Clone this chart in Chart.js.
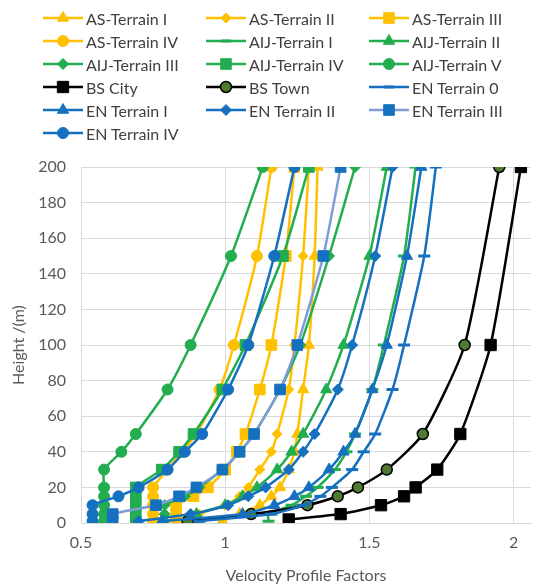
<!DOCTYPE html>
<html>
<head>
<meta charset="utf-8">
<script src="https://cdn.jsdelivr.net/npm/chart.js@4.4.0/dist/chart.umd.min.js"></script>
<style>
  html, body { margin: 0; padding: 0; background: #fff; }
  #wrap { position: relative; width: 541px; height: 587px; }
  #chart { position: absolute; left: 0; top: 0; }
  #legend { position: absolute; left: 0; top: 0; width: 541px; height: 150px;
            font-family: Lato, "Open Sans", sans-serif; font-size: 16px; color: #404040; }
  .item { position: absolute; height: 20px; display: flex; align-items: center; white-space: nowrap; }
  .item canvas { margin-right: 3px; }
</style>
</head>
<body>
<div id="wrap">
  <canvas id="chart" width="541" height="587"></canvas>
  <div id="legend"></div>
</div>
<script>
// heights (m) at which each profile is tabulated
const heights = [1, 5, 10, 15, 20, 30, 40, 50, 75, 100, 150, 200];
const bsCityHeights = [2, 5, 10, 15, 20, 30, 50, 100, 200];
const bsTownHeights = [1, 5, 10, 15, 20, 30, 50, 100, 200];

// velocity profile factors
const asTerrain1 = [0.99, 1.05, 1.12, 1.16, 1.19, 1.22, 1.24, 1.25, 1.27, 1.29, 1.31, 1.32];
const asTerrain2 = [0.91, 0.91, 1.00, 1.05, 1.08, 1.12, 1.16, 1.18, 1.22, 1.24, 1.27, 1.29];
const asTerrain3 = [0.83, 0.83, 0.83, 0.89, 0.94, 1.00, 1.04, 1.07, 1.12, 1.16, 1.21, 1.24];
const asTerrain4 = [0.75, 0.75, 0.75, 0.75, 0.75, 0.80, 0.85, 0.90, 0.98, 1.03, 1.11, 1.16];
const aijTerrain1 = [1.15, 1.15, 1.23, 1.28, 1.32, 1.38, 1.42, 1.45, 1.51, 1.55, 1.62, 1.66];
const aijTerrain2 = [0.90, 0.90, 1.00, 1.06, 1.11, 1.18, 1.23, 1.27, 1.35, 1.41, 1.50, 1.56];
const aijTerrain3 = [0.79, 0.79, 0.79, 0.86, 0.91, 0.99, 1.05, 1.10, 1.19, 1.26, 1.36, 1.45];
const aijTerrain4 = [0.69, 0.69, 0.69, 0.69, 0.69, 0.78, 0.84, 0.89, 0.99, 1.07, 1.20, 1.29];
const aijTerrain5 = [0.58, 0.58, 0.58, 0.58, 0.58, 0.58, 0.64, 0.69, 0.80, 0.88, 1.02, 1.13];
const bsCity = [1.22, 1.40, 1.54, 1.62, 1.66, 1.735, 1.815, 1.92, 2.025];
const bsTown = [0.87, 1.09, 1.285, 1.39, 1.46, 1.56, 1.685, 1.83, 1.95];
const enTerrain0 = [0.91, 1.16, 1.27, 1.33, 1.37, 1.44, 1.48, 1.52, 1.58, 1.62, 1.69, 1.73];
const enTerrain1 = [0.78, 1.06, 1.17, 1.24, 1.29, 1.36, 1.41, 1.45, 1.51, 1.56, 1.63, 1.68];
const enTerrain2 = [0.70, 0.88, 1.01, 1.08, 1.14, 1.22, 1.27, 1.31, 1.39, 1.44, 1.52, 1.58];
const enTerrain3 = [0.61, 0.61, 0.76, 0.84, 0.90, 0.99, 1.05, 1.10, 1.19, 1.25, 1.34, 1.40];
const enTerrain4 = [0.54, 0.54, 0.54, 0.63, 0.70, 0.80, 0.86, 0.92, 1.01, 1.08, 1.17, 1.24];

const xTicks = [0.5, 1, 1.5, 2];

const YELLOW = '#FFC000';
const GREEN = '#22AD4F';
const BLUE = '#1570C0';
const LIGHT_BLUE = '#7F9CD6';

function pts(hs, vals) {
    return vals.map((v, i) => ({ x: v, y: hs[i] }));
}

// name, heights, values, line colour, marker colour, marker style, radius, marker border
const series = [
    ['AS-Terrain I', heights, asTerrain1, YELLOW, YELLOW, 'triangle', 6.5],
    ['AS-Terrain II', heights, asTerrain2, YELLOW, YELLOW, 'rectRot', 5],
    ['AS-Terrain III', heights, asTerrain3, YELLOW, YELLOW, 'rect', 7.5],
    ['AS-Terrain IV', heights, asTerrain4, YELLOW, YELLOW, 'circle', 5.5],
    ['AIJ-Terrain I', heights, aijTerrain1, GREEN, GREEN, 'line', 6],
    ['AIJ-Terrain II', heights, aijTerrain2, GREEN, GREEN, 'triangle', 6.5],
    ['AIJ-Terrain III', heights, aijTerrain3, GREEN, GREEN, 'rectRot', 5.5],
    ['AIJ-Terrain IV', heights, aijTerrain4, GREEN, GREEN, 'rect', 7.5],
    ['AIJ-Terrain V', heights, aijTerrain5, GREEN, GREEN, 'circle', 5.5],
    ['BS City', bsCityHeights, bsCity, '#000000', '#000000', 'rect', 8],
    ['BS Town', bsTownHeights, bsTown, '#000000', '#4E7A32', 'circle', 5.5, '#000000'],
    ['EN Terrain 0', heights, enTerrain0, BLUE, BLUE, 'line', 6],
    ['EN Terrain I', heights, enTerrain1, BLUE, BLUE, 'triangle', 6.5],
    ['EN Terrain II', heights, enTerrain2, BLUE, BLUE, 'rectRot', 5.5],
    ['EN Terrain III', heights, enTerrain3, LIGHT_BLUE, BLUE, 'rect', 7.5],
    ['EN Terrain IV', heights, enTerrain4, BLUE, BLUE, 'circle', 5.5]
];

const datasets = series.map((s, i) => {
    const [label, hs, vals, lineColor, markColor, style, r, edge] = s;
    const isLine = style === 'line';
    return {
        label: label,
        data: pts(hs, vals),
        borderColor: lineColor,
        borderWidth: 2.5,
        backgroundColor: markColor,
        pointStyle: style,
        pointRadius: r,
        pointBackgroundColor: markColor,
        pointBorderColor: edge || markColor,
        pointBorderWidth: isLine ? 3 : (edge ? 1.5 : 1),
        tension: 0.2,
        fill: false,
        order: series.length - 1 - i
    };
});

const ctx = document.getElementById('chart').getContext('2d');
const chart = new Chart(ctx, {
    type: 'line',
    data: { datasets: datasets },
    options: {
        responsive: false,
        devicePixelRatio: 1,
        animation: false,
        layout: { padding: { top: 167, right: 10, left: 0, bottom: 0 } },
        plugins: {
            legend: { display: false },
            tooltip: { enabled: false }
        },
        scales: {
            x: {
                type: 'linear',
                min: 0.5,
                max: 2.06,
                afterBuildTicks: (scale) => { scale.ticks = xTicks.map(v => ({ value: v })); },
                afterFit: (scale) => { scale.height = 64; },
                grid: { color: '#D9D9D9', lineWidth: 1, drawTicks: false },
                border: { color: '#D9D9D9' },
                ticks: {
                    padding: 10,
                    color: '#595959',
                    font: { family: 'Lato', size: 16 },
                    callback: (v) => String(v)
                },
                title: {
                    display: true,
                    text: 'Velocity Profile Factors',
                    color: '#595959',
                    font: { family: 'Lato', size: 16 },
                    padding: { top: 4, bottom: 2 }
                }
            },
            y: {
                min: 0,
                max: 200,
                afterFit: (scale) => { scale.width = 81; },
                grid: { color: '#D9D9D9', lineWidth: 1, drawTicks: false },
                border: { color: '#D9D9D9' },
                ticks: {
                    stepSize: 20,
                    padding: 15,
                    color: '#595959',
                    font: { family: 'Lato', size: 16 }
                },
                title: {
                    display: true,
                    text: 'Height /(m)',
                    color: '#595959',
                    font: { family: 'Lato', size: 16 },
                    padding: { top: 9, bottom: 0 }
                }
            }
        }
    }
});

// legend in three columns
const legend = document.getElementById('legend');
const colX = [43, 206, 369];
series.forEach((s, i) => {
    const ds = datasets[i];
    const item = document.createElement('div');
    item.className = 'item';
    item.style.left = colX[i % 3] + 'px';
    item.style.top = (8 + Math.floor(i / 3) * 23) + 'px';
    const c = document.createElement('canvas');
    c.width = 40; c.height = 16;
    const g = c.getContext('2d');
    g.strokeStyle = ds.borderColor;
    g.lineWidth = 2.5;
    g.beginPath(); g.moveTo(0, 8); g.lineTo(40, 8); g.stroke();
    g.fillStyle = ds.pointBackgroundColor;
    g.strokeStyle = ds.pointBorderColor;
    g.lineWidth = ds.pointBorderWidth;
    if (Chart.helpers && Chart.helpers.drawPoint) {
        Chart.helpers.drawPoint(g, {
            pointStyle: ds.pointStyle,
            radius: ds.pointStyle === 'line' ? 5 : ds.pointRadius,
            rotation: 0,
            borderWidth: ds.pointBorderWidth
        }, 20, 8);
    }
    const t = document.createElement('span');
    t.textContent = ds.label;
    item.appendChild(c);
    item.appendChild(t);
    legend.appendChild(item);
});
</script>
</body>
</html>
